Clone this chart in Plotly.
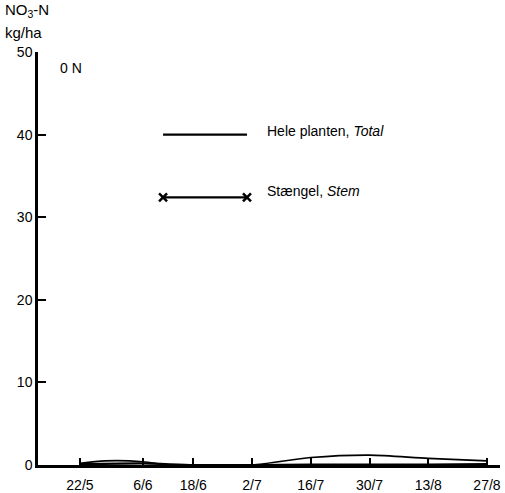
import plotly.graph_objects as go

# Sampling dates (day of year) and tick labels
tick_days = [142, 157, 169, 183, 197, 211, 225, 239]
tick_labels = ["22/5", "6/6", "18/6", "2/7", "16/7", "30/7", "13/8", "27/8"]

# NO3-N, kg/ha, 0 N treatment
total_days = [142, 148, 157, 163, 169, 183, 197, 211, 225, 239]
total_vals = [0.2, 0.5, 0.4, 0.0, 0.0, 0.0, 0.9, 1.2, 0.8, 0.5]
stem_days = [142, 157, 169, 183, 197, 211, 225, 239]
stem_vals = [0.1, 0.2, 0.0, 0.0, 0.05, 0.05, 0.05, 0.1]

y_ticks = [0, 10, 20, 30, 40, 50]

font = dict(family="Liberation Sans, Arial, sans-serif", size=14, color="black")
title_font = dict(family="Liberation Sans, Arial, sans-serif", size=15, color="black")

fig = go.Figure()
fig.add_trace(go.Scatter(x=total_days, y=total_vals, mode="lines",
                         line=dict(color="black", width=1.6, shape="spline", smoothing=0.8),
                         showlegend=False, hoverinfo="skip"))
fig.add_trace(go.Scatter(x=stem_days, y=stem_vals, mode="lines",
                         line=dict(color="black", width=2.2, shape="spline", smoothing=0.6),
                         showlegend=False, hoverinfo="skip"))

# Legend keys drawn inside the plot
key_x = [161.8, 181.8]
fig.add_trace(go.Scatter(x=key_x, y=[40, 40], mode="lines",
                         line=dict(color="black", width=2.2), showlegend=False, hoverinfo="skip"))
fig.add_trace(go.Scatter(x=key_x, y=[32.4, 32.4], mode="lines+markers",
                         line=dict(color="black", width=2.2),
                         marker=dict(symbol="x-thin", size=8, line=dict(color="black", width=2.5)),
                         showlegend=False, hoverinfo="skip"))

fig.add_annotation(x=186.2, y=40.4, xref="x", yref="y", text="Hele planten, <i>Total</i>",
                   showarrow=False, xanchor="left", yanchor="middle", font=font)
fig.add_annotation(x=186.2, y=33.2, xref="x", yref="y", text="Stængel, <i>Stem</i>",
                   showarrow=False, xanchor="left", yanchor="middle", font=font)
fig.add_annotation(x=0.043, y=0.962, xref="paper", yref="paper", text="0 N",
                   showarrow=False, xanchor="left", yanchor="middle", font=font)

fig.add_annotation(x=-0.075, y=1.10, xref="paper", yref="paper",
                   text="NO<sub>3</sub>-N", showarrow=False, xanchor="left", yanchor="middle",
                   font=title_font)
fig.add_annotation(x=-0.075, y=1.047, xref="paper", yref="paper",
                   text="kg/ha", showarrow=False, xanchor="left", yanchor="middle", font=title_font)

fig.update_xaxes(range=[132, 242.1], tickmode="array", tickvals=tick_days, ticktext=tick_labels,
                 ticks="inside", ticklen=7, tickwidth=2, tickcolor="black", ticklabelstandoff=5,
                 showline=True, linecolor="black", linewidth=2.5, showgrid=False, zeroline=False,
                 tickfont=font, automargin=False)
fig.update_yaxes(range=[0, 50], tickmode="array", tickvals=y_ticks,
                 ticks="inside", ticklen=8, tickwidth=2, tickcolor="black",
                 showline=True, linecolor="black", linewidth=2.5, showgrid=False, zeroline=False,
                 tickfont=font, automargin=False)

fig.update_layout(width=505, height=493, margin=dict(l=38, r=5, t=52, b=28),
                  paper_bgcolor="white", plot_bgcolor="white", font=font)

fig.write_html("out.html")
